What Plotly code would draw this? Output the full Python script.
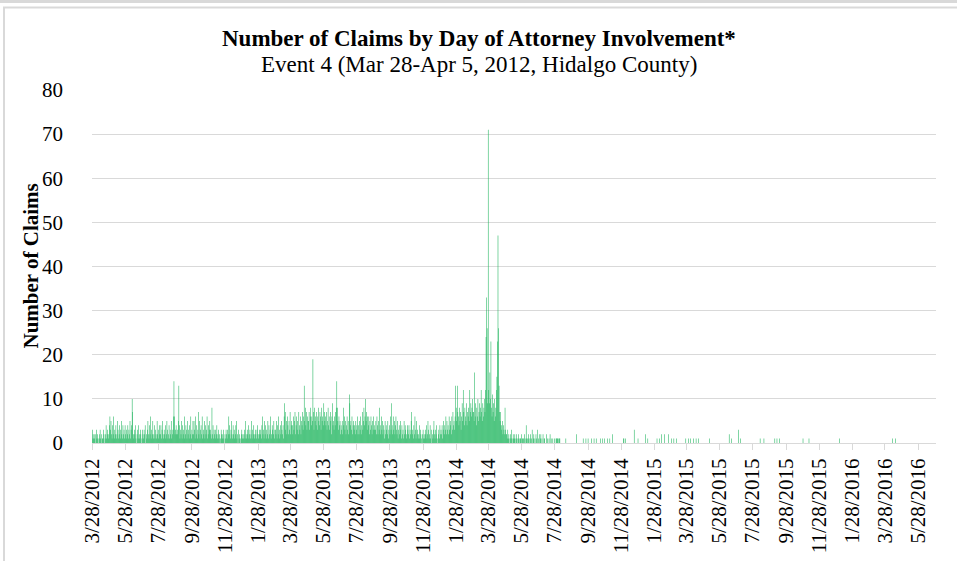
import pandas as pd
import plotly.graph_objects as go

# ---- Daily claim counts, dense period (starts 3/28/2012) ----
claims_2012 = [
    1, 3, 2, 1,  # Mar 28-31
    2, 1, 0, 2, 3, 1, 2, 1, 0, 1, 2, 3, 1, 0, 2, 1, 1, 3, 2, 0, 1, 2, 4, 1, 2, 3, 1, 2, 4, 6,  # Apr
    3, 5, 2, 1, 4, 2, 6, 1, 3, 2, 4, 1, 2, 5, 3, 1, 2, 4, 1, 3, 5, 2, 1, 4, 2, 3, 1, 4, 2, 1, 3,  # May
    2, 4, 1, 3, 2, 5, 1, 3, 4, 10, 7, 2, 1, 3, 2, 4, 1, 0, 2, 3, 1, 4, 2, 1, 3, 2, 0, 1, 3, 2,  # Jun
    1, 3, 2, 4, 0, 2, 1, 3, 5, 2, 1, 4, 2, 6, 1, 3, 2, 5, 1, 2, 4, 1, 3, 2, 1, 5, 2, 3, 1, 4, 2,  # Jul
    2, 4, 1, 3, 5, 2, 1, 3, 2, 4, 1, 2, 5, 3, 1, 2, 4, 1, 3, 2, 5, 1, 2, 3, 6, 14, 6, 2, 3, 4, 2,  # Aug
    3, 2, 5, 13, 4, 1, 3, 2, 5, 1, 4, 2, 3, 6, 1, 2, 4, 3, 1, 5, 2, 3, 1, 4, 2, 6, 1, 3, 2, 5,  # Sep
    2, 5, 3, 1, 6, 2, 4, 1, 3, 7, 2, 5, 1, 3, 4, 2, 6, 1, 3, 2, 5, 1, 4, 2, 3, 6, 1, 2, 4, 3, 5,  # Oct
    3, 2, 1, 8, 2, 4, 1, 3, 2, 1, 3, 2, 4, 1, 2, 3, 1, 2, 0, 1, 3, 2, 1, 2, 3, 1, 0, 2, 1, 3,  # Nov
    2, 1, 3, 2, 6, 4, 2, 1, 3, 5, 2, 1, 4, 2, 3, 1, 2, 4, 5, 1, 2, 0, 3, 1, 2, 1, 0, 2, 3, 1, 2,  # Dec
]
claims_2013 = [
    1, 2, 3, 1, 5, 2, 1, 3, 2, 4, 1, 2, 3, 1, 2, 5, 1, 3, 2, 4, 1, 2, 3, 2, 1, 3, 4, 2, 1, 2, 3,  # Jan
    2, 3, 1, 4, 6, 2, 3, 1, 5, 2, 4, 1, 3, 2, 5, 1, 4, 2, 3, 6, 1, 2, 4, 3, 2, 5, 1, 3,  # Feb
    3, 2, 5, 1, 4, 2, 6, 3, 1, 4, 2, 5, 3, 2, 4, 1, 6, 9, 7, 3, 5, 2, 6, 4, 2, 5, 3, 7, 2, 4, 5,  # Mar
    4, 2, 6, 3, 5, 7, 2, 4, 6, 3, 5, 2, 7, 4, 3, 6, 2, 5, 4, 7, 3, 6, 13, 5, 8, 4, 7, 3, 6, 5,  # Apr
    5, 7, 3, 6, 8, 4, 6, 5, 19, 7, 3, 8, 5, 6, 4, 7, 3, 6, 8, 5, 4, 7, 6, 3, 8, 5, 6, 4, 9, 7, 5,  # May
    6, 4, 7, 3, 5, 8, 4, 6, 3, 7, 5, 2, 6, 9, 4, 5, 3, 6, 4, 7, 8, 14, 8, 5, 3, 6, 4, 5, 2, 4,  # Jun
    3, 5, 2, 8, 4, 6, 3, 5, 2, 4, 6, 3, 5, 2, 11, 9, 4, 5, 3, 6, 2, 4, 5, 3, 4, 2, 5, 3, 4, 6, 2,  # Jul
    4, 2, 5, 3, 6, 2, 4, 7, 3, 5, 8, 4, 6, 10, 5, 7, 3, 6, 4, 6, 2, 5, 3, 6, 4, 2, 5, 3, 6, 4, 3,  # Aug
    3, 5, 2, 6, 4, 2, 5, 3, 8, 4, 2, 6, 3, 5, 2, 4, 3, 1, 5, 2, 4, 3, 2, 5, 1, 3, 4, 2, 6, 3,  # Sep
    9, 4, 2, 6, 3, 5, 2, 4, 6, 3, 2, 5, 1, 3, 4, 2, 5, 3, 1, 4, 2, 3, 1, 5, 2, 4, 3, 1, 2, 4, 3,  # Oct
    2, 4, 1, 3, 2, 5, 7, 2, 3, 1, 4, 2, 6, 3, 1, 5, 2, 3, 1, 2, 4, 1, 3, 2, 1, 0, 2, 3, 1, 2,  # Nov
    1, 3, 2, 4, 1, 2, 5, 3, 1, 2, 4, 1, 3, 0, 2, 1, 3, 5, 2, 1, 3, 2, 4, 1, 0, 2, 3, 1, 4, 2, 3,  # Dec
]
claims_2014 = [
    2, 4, 1, 3, 5, 2, 4, 3, 6, 2, 5, 3, 4, 2, 6, 3, 5, 4, 2, 6, 3, 7, 4, 5, 3, 6, 13, 8, 5, 13, 7,  # Jan
    6, 4, 8, 5, 7, 3, 6, 9, 5, 12, 7, 4, 8, 6, 5, 9, 4, 7, 6, 8, 5, 12, 7, 9, 6, 8, 10, 7,  # Feb
    7, 5, 16, 6, 9, 4, 8, 6, 10, 5, 7, 9, 6, 8, 12, 7, 5, 9, 6, 8, 10, 7, 12, 24, 33, 26, 9, 71, 12, 9, 16,  # Mar
    10, 23, 8, 6, 11, 7, 9, 5, 10, 6, 8, 12, 15, 23, 47, 26, 13, 7, 5, 7, 4, 3, 5, 2, 4, 3, 2, 8, 3, 2,  # Apr
    2, 1, 3, 1, 2, 0, 1, 2, 1, 3, 1, 0, 2, 1, 1, 2, 0, 1, 2, 1, 0, 1, 2, 1, 0, 1, 1, 2, 0, 1, 1,  # May
    1, 0, 2, 1, 0, 4, 1, 1, 0, 2, 1, 0, 1, 2, 0, 1, 3, 0, 1, 2, 0, 1, 0, 2, 1, 0, 3, 0, 1, 2,  # Jun
    0, 1, 2, 0, 1, 0, 2, 0, 1, 1, 0, 0, 2, 0, 1, 0, 0, 1, 0, 2, 0, 1, 0, 0, 1, 0, 0, 1, 0, 0, 1,  # Jul
    1, 1, 1, 0, 1, 1, 1, 0, 0, 0, 0, 0, 0, 0, 0, 0, 0, 1, 0, 0, 0, 0, 0, 0, 0, 0, 0, 0, 0, 0, 0,  # Aug
]

# ---- Sparse later period (date, count) ----
sparse_dates = [
    "2014-09-07", "2014-09-19", "2014-09-24", "2014-09-28", "2014-10-04", "2014-10-09",
    "2014-10-13", "2014-10-21", "2014-10-25", "2014-10-28", "2014-11-03", "2014-11-07",
    "2014-11-12", "2014-12-02", "2014-12-03", "2014-12-06", "2014-12-22", "2014-12-29",
    "2015-01-12", "2015-01-16", "2015-02-02", "2015-02-07", "2015-02-10", "2015-02-16",
    "2015-02-23", "2015-03-01", "2015-03-05", "2015-03-10", "2015-03-27", "2015-04-01",
    "2015-04-05", "2015-04-10", "2015-04-15", "2015-04-19", "2015-05-10", "2015-06-15",
    "2015-06-19", "2015-07-02", "2015-07-06", "2015-08-11", "2015-08-18", "2015-09-07",
    "2015-09-11", "2015-09-16", "2015-10-29", "2015-11-09", "2016-01-04", "2016-04-11",
    "2016-04-16",
]
sparse_counts = [
    2, 1, 1, 1, 1, 1,
    1, 1, 1, 1, 1, 1,
    2, 1, 1, 1, 3, 1,
    2, 1, 1, 1, 2, 2,
    2, 1, 1, 1, 1, 1,
    1, 1, 1, 1, 1, 2,
    1, 3, 1, 1, 1, 1,
    1, 1, 1, 1, 1, 1,
    1,
]

tick_dates = [
    "2012-03-28", "2012-05-28", "2012-07-28", "2012-09-28", "2012-11-28",
    "2013-01-28", "2013-03-28", "2013-05-28", "2013-07-28", "2013-09-28", "2013-11-28",
    "2014-01-28", "2014-03-28", "2014-05-28", "2014-07-28", "2014-09-28", "2014-11-28",
    "2015-01-28", "2015-03-28", "2015-05-28", "2015-07-28", "2015-09-28", "2015-11-28",
    "2016-01-28", "2016-03-28", "2016-05-28",
]
tick_labels = [
    "3/28/2012", "5/28/2012", "7/28/2012", "9/28/2012", "11/28/2012",
    "1/28/2013", "3/28/2013", "5/28/2013", "7/28/2013", "9/28/2013", "11/28/2013",
    "1/28/2014", "3/28/2014", "5/28/2014", "7/28/2014", "9/28/2014", "11/28/2014",
    "1/28/2015", "3/28/2015", "5/28/2015", "7/28/2015", "9/28/2015", "11/28/2015",
    "1/28/2016", "3/28/2016", "5/28/2016",
]

dense_counts = claims_2012 + claims_2013 + claims_2014
dense_dates = pd.date_range("2012-03-28", periods=len(dense_counts), freq="D")
x_all = list(dense_dates.strftime("%Y-%m-%d")) + sparse_dates
y_all = dense_counts + sparse_counts

FONT = "Liberation Serif, Times New Roman, serif"
GRID = "#d9d9d9"

W, H = 957, 561
L, R, T, B = 92, 21, 90, 118
pw, ph = W - L - R, H - T - B


def px(xp):
    return (xp - L) / pw


def py(yp):
    return (H - B - yp) / ph


fig = go.Figure()
fig.add_trace(go.Bar(
    x=x_all, y=y_all,
    marker=dict(color="#16b257", line=dict(width=0)),
    hoverinfo="skip",
))

fig.update_layout(
    width=W, height=H,
    margin=dict(l=L, r=R, t=T, b=B, autoexpand=False),
    paper_bgcolor="white", plot_bgcolor="white",
    bargap=0,
    showlegend=False,
    font=dict(family=FONT, size=21, color="#000000"),
    xaxis=dict(
        type="date", automargin=False,
        range=["2012-03-28", "2016-06-30"],
        tickmode="array", tickvals=tick_dates, ticktext=tick_labels,
        tickangle=-90,
        ticks="outside", ticklen=6, tickcolor=GRID, tickwidth=1,
        showline=True, linecolor=GRID, linewidth=1,
        showgrid=False, zeroline=False,
        tickfont=dict(family=FONT, size=21, color="#000000"),
    ),
    yaxis=dict(
        automargin=False,
        range=[0, 80], dtick=10, tick0=0,
        showgrid=True, gridcolor=GRID, gridwidth=1,
        zeroline=False, showline=False,
        ticks="", ticklabelstandoff=28,
        tickfont=dict(family=FONT, size=21, color="#000000"),
    ),
    annotations=[
        dict(text="<b>Number of Claims by Day of Attorney Involvement*</b>",
             xref="paper", yref="paper", x=px(W / 2), y=py(38),
             xanchor="center", yanchor="middle", showarrow=False,
             font=dict(family=FONT, size=23, color="#000000")),
        dict(text="Event 4 (Mar 28-Apr 5, 2012, Hidalgo County)",
             xref="paper", yref="paper", x=px(W / 2), y=py(65),
             xanchor="center", yanchor="middle", showarrow=False,
             font=dict(family=FONT, size=23, color="#000000")),
        dict(text="<b>Number of Claims</b>", textangle=-90,
             xref="paper", yref="paper", x=px(30), y=0.5,
             xanchor="center", yanchor="middle", showarrow=False,
             font=dict(family=FONT, size=21, color="#000000")),
    ],
    shapes=[
        dict(type="rect", xref="paper", yref="paper",
             x0=px(-5), x1=px(W + 5), y0=py(3), y1=py(-5),
             fillcolor="#d9d9d9", line=dict(width=0), layer="above"),
        dict(type="rect", xref="paper", yref="paper",
             x0=px(4), x1=px(W + 10), y0=py(H + 10), y1=py(7.5),
             fillcolor="rgba(0,0,0,0)", line=dict(color="#d9d9d9", width=2), layer="above"),
    ],
)

post_js = """
document.body.style.margin = '0';
document.body.style.padding = '0';
var gd = document.getElementById('{plot_id}');
function smoothBars() {
  gd.querySelectorAll('.bars path').forEach(function (p) {
    p.style.shapeRendering = 'geometricPrecision';
  });
}
smoothBars();
setTimeout(smoothBars, 30);
setTimeout(smoothBars, 200);
"""

fig.write_html("out.html", config={"staticPlot": True}, post_script=post_js)
